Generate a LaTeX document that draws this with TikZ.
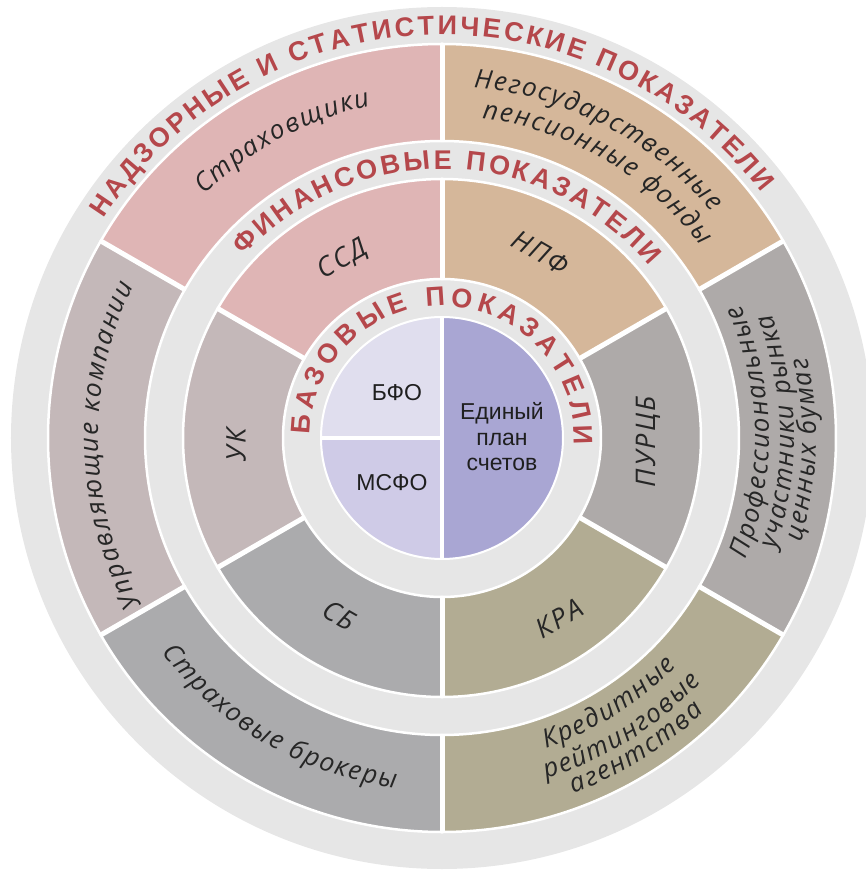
\documentclass[tikz,border=0pt]{standalone}
\usepackage{fontspec}
\setmainfont{Liberation Sans}
\newfontfamily\lblfont{Open Sans}
\usetikzlibrary{decorations.text}
\definecolor{band}{HTML}{E6E6E6}
\definecolor{titlered}{HTML}{B5474B}
\definecolor{labelgrey}{HTML}{262626}
\definecolor{ssd}{HTML}{DFB5B5}
\definecolor{npf}{HTML}{D5B79A}
\definecolor{purcb}{HTML}{AEAAA9}
\definecolor{kra}{HTML}{B2AC93}
\definecolor{sb}{HTML}{ABABAD}
\definecolor{uk}{HTML}{C4B8B9}
\definecolor{bfo}{HTML}{E0DEEE}
\definecolor{msfo}{HTML}{CFCBE7}
\definecolor{eps}{HTML}{A9A6D3}
\begin{document}
\begin{tikzpicture}[x=1pt,y=1pt,
  seg/.style={draw=white,line width=2.5pt},
  gap/.style={draw=white,line width=5pt},
  title/.style={decorate,decoration={text along path,text align=center,text color=titlered,
    text={|\fontsize{27}{27}\selectfont\bfseries\kern3pt|#1}}},
  basetitle/.style={decorate,decoration={text along path,text align=center,text color=titlered,
    text={|\fontsize{27}{27}\selectfont\bfseries\kern5pt|#1}}},
  lbl/.style={decorate,decoration={text along path,text align=center,text color=labelgrey,
    text={|\fontsize{26}{26}\lblfont\itshape\kern1.7pt|#1}}},
  mid/.style={font=\fontsize{27}{27}\lblfont\itshape\addfontfeature{LetterSpace=8},text=labelgrey},
  core/.style={font=\fontsize{23}{25.5}\selectfont,text=black!88,align=center}]
\useasboundingbox (-442,-432) rectangle (424,438);
\clip (-442,-432) rectangle (424,438);
%rings
\fill[band] (0,0) circle (431);
\foreach \a/\c in {90/ssd,30/npf,-30/purcb,-90/kra,210/sb,150/uk}{
  \filldraw[fill=\c,seg] (\a:297) arc (\a:\a+60:297)--(\a+60:394) arc (\a+60:\a:394)--cycle;
  \filldraw[fill=\c,seg] (\a:159) arc (\a:\a+60:159)--(\a+60:259) arc (\a+60:\a:259)--cycle;
}
\foreach \a in {90,30,-30,-90,210,150}{\draw[gap] (\a:158)--(\a:260) (\a:296)--(\a:395);}
%core
\fill[bfo] (0,0)--(90:121) arc (90:180:121)--cycle;
\fill[msfo] (0,0)--(180:121) arc (180:270:121)--cycle;
\fill[eps] (0,0)--(-90:121) arc (-90:90:121)--cycle;
\draw[white,line width=2pt] (0,0) circle (121);
\draw[white,line width=4pt] (90:121)--(-90:121) (180:121)--(0,0);
\node[core] (bfo) at (-45,45) {БФО};
\node[core] (msfo) at (-50,-45) {МСФО};
\node[core] (eps) at (60,1) {Единый\\план\\счетов};
%titles
\path[title={НАДЗОРНЫЕ И СТАТИСТИЧЕСКИЕ ПОКАЗАТЕЛИ}] (157.5:403) arc (157.5:27.5:403);
\path[title={ФИНАНСОВЫЕ ПОКАЗАТЕЛИ}] (143.9:269) arc (143.9:33.9:269);
\path[basetitle={БАЗОВЫЕ ПОКАЗАТЕЛИ}] (183.8:132) arc (183.8:-6.2:132);
%middle ring
\node[mid,rotate=30] (ssdl) at (119:204) {ССД};
\node[mid,rotate=-30] (npfl) at (62:210) {НПФ};
\node[mid,rotate=90] (purcbl) at (-1:206) {ПУРЦБ};
\node[mid,rotate=30] (kral) at (303:215) {КРА};
\node[mid,rotate=-30] (sbl) at (240:205) {СБ};
\node[mid,rotate=90] (ukl) at (182:206) {УК};
%outer ring
\path[lbl={Страховщики}] (148.4:340) arc (148.4:88.4:340);
\path[lbl={Негосударственные}] (97.5:352) arc (97.5:27.5:352);
\path[lbl={пенсионные фонды}] (94.8:322) arc (94.8:24.8:322);
\path[lbl={Профессиональные}] (-34:327) arc (-34:36:327);
\path[lbl={участники рынка}] (-34:352) arc (-34:36:352);
\path[lbl={ценных бумаг}] (-37:374) arc (-37:33:374);
\path[lbl={Кредитные}] (272:327) arc (272:332:327);
\path[lbl={рейтинговые}] (271.75:356) arc (271.75:331.75:356);
\path[lbl={агентства}] (271.9:379) arc (271.9:331.9:379);
\path[lbl={Страховые брокеры}] (204.8:353) arc (204.8:274.8:353);
\path[lbl={Управляющие компании}] (216.5:344) arc (216.5:146.5:344);
\end{tikzpicture}
\end{document}
